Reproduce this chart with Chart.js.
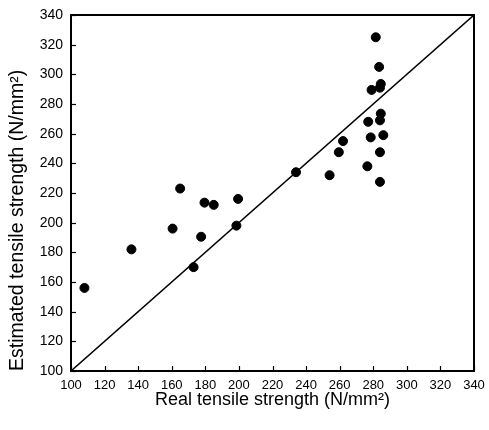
<!DOCTYPE html>
<html>
<head>
<meta charset="utf-8">
<script src="https://cdn.jsdelivr.net/npm/chart.js@4/dist/chart.umd.min.js"></script>
<style>
  html, body { margin: 0; padding: 0; background: #fff; }
  #wrap { width: 489px; height: 430px; }
</style>
</head>
<body>
<div id="wrap"><canvas id="chart"></canvas></div>
<script>
// measured vs. predicted tensile strength (N/mm2)
var realStrength = [108, 136, 160.5, 165, 173, 177.5, 179.5, 185, 199.5, 198.5,
    281.5, 283.5, 284.5, 284, 279, 284.5, 284, 277, 278.5, 286,
    262, 259.5, 284, 276.5, 234, 254, 284];
var estimatedStrength = [156, 182, 196, 223, 170, 190.5, 213.5, 212, 216, 198,
    325, 305, 293.5, 291, 289.5, 273.5, 269, 268, 257.5, 259,
    255, 247.5, 247.5, 238, 234, 232, 227.5];
var axisTicks = [100, 120, 140, 160, 180, 200, 220, 240, 260, 280, 300, 320, 340];

var points = realStrength.map(function (v, i) {
    return { x: v, y: estimatedStrength[i] };
});
var identity = [{ x: axisTicks[0], y: axisTicks[0] },
    { x: axisTicks[axisTicks.length - 1], y: axisTicks[axisTicks.length - 1] }];

// frame around the plot plus short inward ticks on left and bottom
var frameAndTicks = {
    id: 'frameAndTicks',
    afterDatasetsDraw: function (chart) {
        var ctx = chart.ctx, a = chart.chartArea;
        var xs = chart.scales.x, ys = chart.scales.y;
        ctx.save();
        ctx.strokeStyle = '#000';
        ctx.lineWidth = 1.2;
        axisTicks.forEach(function (t) {
            var px = Math.round(xs.getPixelForValue(t)) + 0.5;
            ctx.beginPath();
            ctx.moveTo(px, a.bottom);
            ctx.lineTo(px, a.bottom - 5);
            ctx.stroke();
            var py = Math.round(ys.getPixelForValue(t)) + 0.5;
            ctx.beginPath();
            ctx.moveTo(a.left, py);
            ctx.lineTo(a.left + 5, py);
            ctx.stroke();
        });
        ctx.lineWidth = 2;
        ctx.strokeRect(a.left, a.top, a.right - a.left, a.bottom - a.top);
        ctx.restore();
    }
};

var font = "'Liberation Sans', Arial, sans-serif";

new Chart(document.getElementById('chart').getContext('2d'), {
    type: 'scatter',
    data: {
        datasets: [{
            type: 'line',
            data: identity,
            borderColor: '#000',
            borderWidth: 1.5,
            pointRadius: 0,
            fill: false
        }, {
            data: points,
            backgroundColor: '#000',
            borderColor: '#000',
            pointRadius: 4.5,
            pointHoverRadius: 4.5
        }]
    },
    options: {
        responsive: true,
        maintainAspectRatio: false,
        animation: false,
        layout: { padding: { left: 0, top: 15, right: 15, bottom: 0 } },
        plugins: {
            legend: { display: false },
            tooltip: { enabled: false }
        },
        scales: {
            x: {
                type: 'linear',
                min: 100,
                max: 340,
                afterBuildTicks: function (s) {
                    s.ticks = axisTicks.map(function (v) { return { value: v }; });
                },
                afterFit: function (s) {
                    s.height = 59;
                    s.paddingLeft = 0;
                    s.paddingRight = 0;
                },
                grid: { display: false, drawTicks: false },
                border: { display: false },
                ticks: { color: '#000', padding: 7, maxRotation: 0, font: { family: font, size: 13 } },
                title: {
                    display: true,
                    text: 'Real tensile strength (N/mm²)',
                    color: '#000',
                    font: { family: font, size: 18 },
                    padding: { top: 0, bottom: 19 }
                }
            },
            y: {
                type: 'linear',
                min: 100,
                max: 340,
                afterBuildTicks: function (s) {
                    s.ticks = axisTicks.map(function (v) { return { value: v }; });
                },
                afterFit: function (s) {
                    s.width = 71;
                    s.paddingTop = 0;
                    s.paddingBottom = 0;
                },
                grid: { display: false, drawTicks: false },
                border: { display: false },
                ticks: { color: '#000', padding: 8, font: { family: font, size: 14 } },
                title: {
                    display: true,
                    align: 'start',
                    text: 'Estimated tensile strength (N/mm²)',
                    color: '#000',
                    font: { family: font, size: 19.5 },
                    padding: { top: 6, bottom: 0 }
                }
            }
        }
    },
    plugins: [frameAndTicks]
});
</script>
</body>
</html>
